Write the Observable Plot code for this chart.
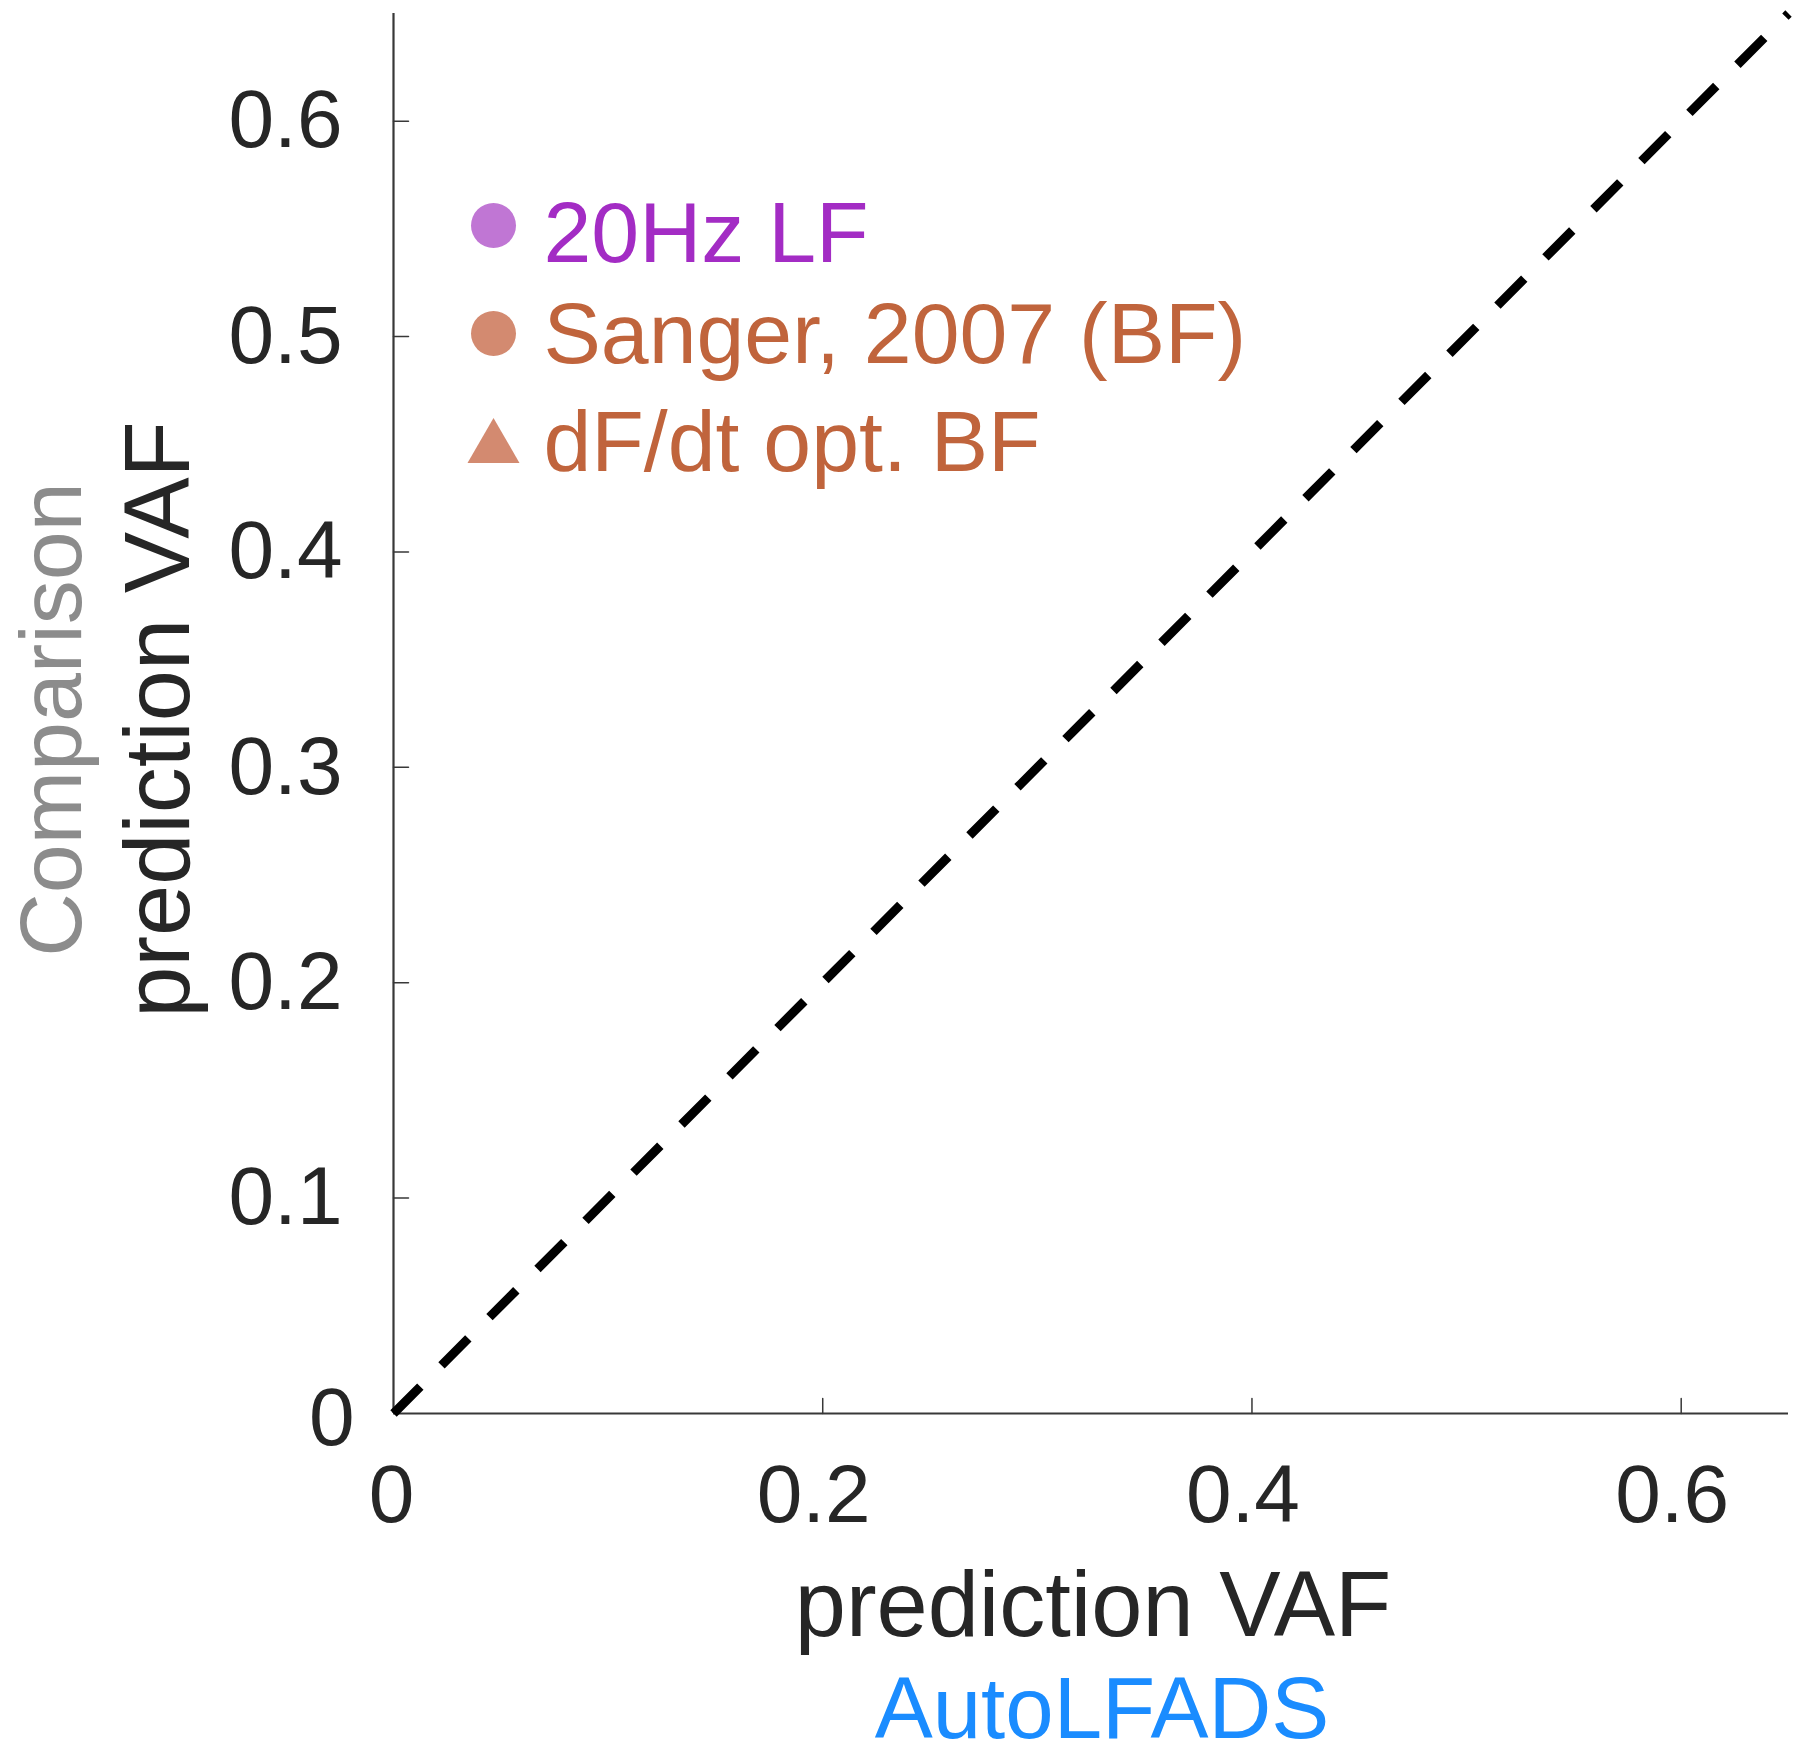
<!DOCTYPE html>
<html>
<head>
<meta charset="utf-8">
<script src="https://cdn.jsdelivr.net/npm/d3@7"></script>
<script src="https://cdn.jsdelivr.net/npm/@observablehq/plot@0.6"></script>
<style>
  html, body { margin: 0; padding: 0; background: #ffffff; }
  #chart { width: 1800px; height: 1755px; }
</style>
</head>
<body>
<div id="chart"></div>
<script>
// ---- data ----
const xTicks = [0, 0.2, 0.4, 0.6];
const yTicks = [0, 0.1, 0.2, 0.3, 0.4, 0.5, 0.6];
const axisDomain = [0, 0.65];
const diagonal = [0, 0.65];            // identity line y = x
const legendLabels = ["20Hz LF", "Sanger, 2007 (BF)", "dF/dt opt. BF"];
const legendSymbols = ["circle", "circle", "triangle"];
const legendMarkerColors = ["#c076d4", "#d38a70", "#d38a70"];
const legendTextColors = ["#a32cc4", "#c0643c", "#c0643c"];
const xLabel = "prediction VAF";
const xSubLabel = "AutoLFADS";
const yLabel = "prediction VAF";
const ySubLabel = "Comparison";

// ---- styles ----
const FONT = "'Liberation Sans', Arial, Helvetica, sans-serif";
const AXIS = "#383838";
const TEXT = "#262626";
const fmt = d => String(d);

const tickShape = "spike";
const legendDotDy = [212, 320, 434.5];
const legendDotR = [22.5, 22.5, 19.3];
const legendTextDy = [248, 349, 457];

const legendMarks = legendLabels.flatMap((label, i) => [
  Plot.dot([label], {
    frameAnchor: "top-left", dx: 100, dy: legendDotDy[i],
    r: legendDotR[i], symbol: legendSymbols[i],
    fill: legendMarkerColors[i], stroke: "none"
  }),
  Plot.text([label], {
    text: d => d, frameAnchor: "top-left", dx: 150, dy: legendTextDy[i],
    textAnchor: "start", lineAnchor: "bottom",
    fontSize: 86, fill: legendTextColors[i], fontFamily: FONT
  })
]);

const chart = Plot.plot({
  width: 1800,
  height: 1755,
  marginLeft: 393,
  marginRight: 12,
  marginTop: 13,
  marginBottom: 342,
  x: { domain: axisDomain },
  y: { domain: axisDomain },
  style: { fontFamily: FONT, color: TEXT, background: "#ffffff" },
  marks: [
    // tick labels
    Plot.axisX({ ticks: xTicks.filter(d => d > 0), tickFormat: fmt, tickSize: 0, tickPadding: 50, dx: -9, fontSize: 82, label: null, fill: TEXT }),
    Plot.axisX({ ticks: [0], tickFormat: fmt, tickSize: 0, tickPadding: 50, dx: -2, fontSize: 82, label: null, fill: TEXT }),
    Plot.axisY({ ticks: yTicks.filter(d => d > 0), tickFormat: fmt, tickSize: 0, tickPadding: 51, fontSize: 82, label: null, fill: TEXT }),
    Plot.axisY({ ticks: [0], tickFormat: fmt, tickSize: 0, tickPadding: 39, dy: 5, fontSize: 82, label: null, fill: TEXT }),
    // axis lines
    Plot.ruleY([0], { stroke: AXIS, strokeWidth: 2.2 }),
    Plot.ruleX([0], { stroke: AXIS, strokeWidth: 2.2 }),
    // inward tick marks
    Plot.vector(xTicks.filter(d => d > 0), {
      x: d => d, y: 0, length: 15, anchor: "start", shape: tickShape, r: 0,
      rotate: 0, stroke: AXIS, strokeWidth: 1.5, fill: "none"
    }),
    Plot.vector(yTicks.filter(d => d > 0), {
      x: 0, y: d => d, length: 15, anchor: "start", shape: tickShape, r: 0,
      rotate: 90, stroke: AXIS, strokeWidth: 1.5, fill: "none"
    }),
    // identity line
    Plot.line(diagonal, {
      x: d => d, y: d => d, stroke: "#000000", strokeWidth: 9,
      strokeDasharray: "38,30", strokeLinecap: "butt"
    }),
    // axis titles
    Plot.text([xLabel], {
      text: d => d, frameAnchor: "bottom", dy: 222, dx: 2,
      textAnchor: "middle", lineAnchor: "bottom", fontSize: 92, fill: TEXT
    }),
    Plot.text([xSubLabel], {
      text: d => d, frameAnchor: "bottom", dy: 324, dx: 11,
      textAnchor: "middle", lineAnchor: "bottom", fontSize: 87, fill: "#1a8cff"
    }),
    Plot.text([yLabel], {
      text: d => d, frameAnchor: "left", dx: -205, dy: 6, rotate: -90,
      textAnchor: "middle", lineAnchor: "bottom", fontSize: 92, fill: TEXT
    }),
    Plot.text([ySubLabel], {
      text: d => d, frameAnchor: "left", dx: -313, dy: 6, rotate: -90,
      textAnchor: "middle", lineAnchor: "bottom", fontSize: 88, fill: "#8c8c8c"
    }),
    ...legendMarks
  ]
});

document.getElementById("chart").appendChild(chart);
</script>
</body>
</html>
